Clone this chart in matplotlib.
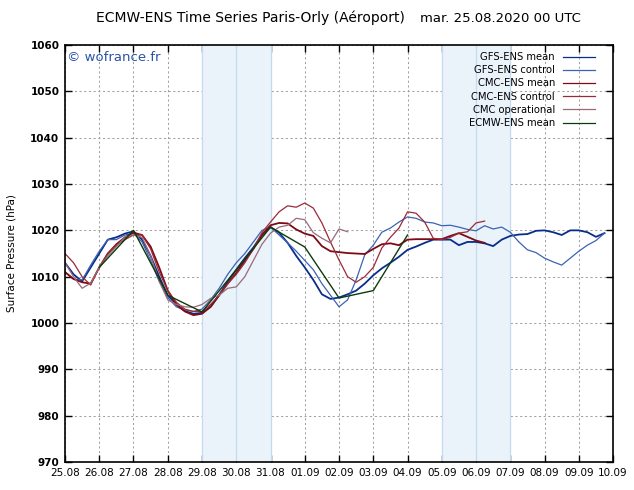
import matplotlib.pyplot as plt
import numpy as np

# days since 25.08.2020 00 UTC
day_labels = ['25.08', '26.08', '27.08', '28.08', '29.08', '30.08', '31.08', '01.09',
              '02.09', '03.09', '04.09', '05.09', '06.09', '07.09', '08.09', '09.09', '10.09']
weekend_bands = [(4, 6), (11, 13)]

# 6-hourly series starting at day 0
gfs_mean = [1013, 1010.5, 1009, 1012, 1015, 1018, 1018.5, 1019.3, 1019.8, 1018, 1014.5, 1010,
            1006, 1004, 1002.6, 1002, 1002.2, 1003.5, 1006, 1009, 1011.5, 1014, 1016.3, 1019,
            1020.7, 1019.5, 1017.3, 1014.5, 1012, 1009.3, 1006.2, 1005.2, 1005.5, 1006.2, 1007, 1008.5,
            1010.3, 1011.8, 1013, 1014.3, 1015.8, 1016.5, 1017.3, 1018, 1018, 1018, 1016.8, 1017.5,
            1017.5, 1017.2, 1016.6, 1018, 1018.8, 1019.1, 1019.2, 1019.9, 1020, 1019.6, 1019, 1020,
            1020, 1019.6, 1018.6, 1019.4]
gfs_control = [1011, 1009.5, 1009.3, 1012.5, 1015.5, 1018, 1018, 1019, 1019.4, 1017.5, 1013.5, 1009,
               1005.5, 1003.5, 1002.8, 1002.5, 1003, 1005, 1007.5, 1010.5, 1013, 1015, 1017.5, 1020,
               1020.7, 1019, 1017.3, 1015.5, 1013.5, 1011.5, 1008.5, 1006, 1003.5, 1005, 1009.3, 1014.7,
               1016.8, 1019.6, 1020.5, 1021.8, 1022.9, 1022.6, 1021.8, 1021.6, 1021, 1021.1, 1020.7, 1020.2,
               1019.9, 1021, 1020.3, 1020.7, 1019.6, 1017.5, 1015.8, 1015.2, 1014, 1013.2, 1012.5, 1014,
               1015.5, 1016.8, 1017.8, 1019.4]
cmc_mean = [1011, 1009.5, 1008.8, 1008.5, 1012, 1015, 1017, 1018.5, 1019.5, 1019, 1016.5, 1012,
            1007, 1004, 1002.5, 1001.7, 1002, 1003.5, 1006, 1008.5, 1010.8, 1013.5, 1016, 1019,
            1021.1, 1021.6, 1021.5, 1020.2, 1019.3, 1018.8, 1016.6, 1015.5, 1015.3, 1015.1, 1015, 1014.9,
            1016, 1017, 1017.2, 1016.8, 1018, 1018.1, 1018.1, 1018.1, 1018.1, 1018.8, 1019.4, 1018.6,
            1017.8, 1017.3]
cmc_control = [1015, 1013, 1010, 1008.2, 1012, 1015, 1016.8, 1018, 1019, 1019, 1016, 1011,
               1007, 1004.5, 1003, 1002.5, 1002.5, 1004, 1006, 1008.5, 1010.5, 1013, 1016, 1019.5,
               1021.8, 1024, 1025.3, 1025, 1025.9, 1024.8, 1021.6, 1017.5, 1013.6, 1010, 1008.8, 1010,
               1012, 1016.2, 1018.5, 1020.5, 1024, 1023.7, 1021.8, 1018.3, 1018, 1018.5, 1019.4, 1019.7,
               1021.6, 1022]
cmc_oper = [1013, 1010, 1007.5, 1008.6, 1012, 1014.5, 1016.5, 1018.6, 1019, 1018.5, 1014.5, 1009,
            1005, 1004, 1003.5, 1003.4, 1004, 1005.3, 1006, 1007.5, 1007.8, 1010, 1013.5, 1017,
            1019.4, 1020.7, 1021.1, 1022.6, 1022.3, 1019.5, 1018.3, 1017.3, 1020.3, 1019.7]
# daily, starting at day 1
ecmwf_mean = [1012, 1020, 1006, 1002.4, 1011.5, 1020.7, 1016.4, 1005.4, 1007, 1019]

series = [
    ('GFS-ENS mean', gfs_mean, 0, 0.25, '#0a2d8c', 1.3),
    ('GFS-ENS control', gfs_control, 0, 0.25, '#3d62b3', 0.9),
    ('CMC-ENS mean', cmc_mean, 0, 0.25, '#7d0a14', 1.3),
    ('CMC-ENS control', cmc_control, 0, 0.25, '#9a2a38', 0.9),
    ('CMC operational', cmc_oper, 0, 0.25, '#9a6a78', 0.9),
    ('ECMW-ENS mean', ecmwf_mean, 1, 1.0, '#0b3d0b', 1.0),
]

fig = plt.figure(figsize=(6.34, 4.90), dpi=100)
ax = fig.add_axes([0.1025, 0.0571, 0.8645, 0.851])
ax.set_axisbelow(True)

# shaded weekends sit on top of the grid, under the curves
for a, b in weekend_bands:
    ax.axvspan(a, b, facecolor='#eaf2fa', edgecolor='none', zorder=1.5)
    for xv in (a, (a + b) / 2, b):
        ax.axvline(xv, color='#c4dbef', lw=0.9, zorder=1.6)

for label, vals, start, step, color, lw in series:
    x = start + step * np.arange(len(vals))
    ax.plot(x, vals, color=color, lw=lw, label=label, zorder=3)

ax.set_xlim(0, 16)
ax.set_ylim(970, 1060)
ax.set_xticks(range(17))
ax.set_xticklabels(day_labels, fontsize=7.5)
ax.set_yticks(range(970, 1061, 10))
ax.set_yticklabels([str(v) for v in range(970, 1061, 10)], fontsize=7.5, fontweight='bold')
ax.tick_params(direction='in', length=5, width=1, top=True, right=True, pad=4)
ax.grid(True, color='#a0a0a0', linestyle=(0, (2, 2.5)), lw=0.75)
for s in ax.spines.values():
    s.set_linewidth(1.2)
    s.set_zorder(4)

ax.set_ylabel('Surface Pressure (hPa)', fontsize=7.5, labelpad=10)

fig.text(0.395, 0.963, 'ECMW-ENS Time Series Paris-Orly (Aéroport)', ha='center', va='center', fontsize=10)
fig.text(0.79, 0.963, 'mar. 25.08.2020 00 UTC', ha='center', va='center', fontsize=9.5)
ax.text(0.004, 0.985, '© wofrance.fr', transform=ax.transAxes, ha='left', va='top',
        fontsize=9.5, color='#2b52a8', zorder=5)

leg = ax.legend(loc='upper right', frameon=False, markerfirst=False, fontsize=7.2,
                handlelength=3.2, labelspacing=0.32, handletextpad=0.8,
                borderaxespad=0.3, bbox_to_anchor=(0.98, 1.0))
leg.set_zorder(5)
for h in leg.get_lines():
    h.set_linewidth(0.9)

fig.savefig('out.png', dpi=100)
